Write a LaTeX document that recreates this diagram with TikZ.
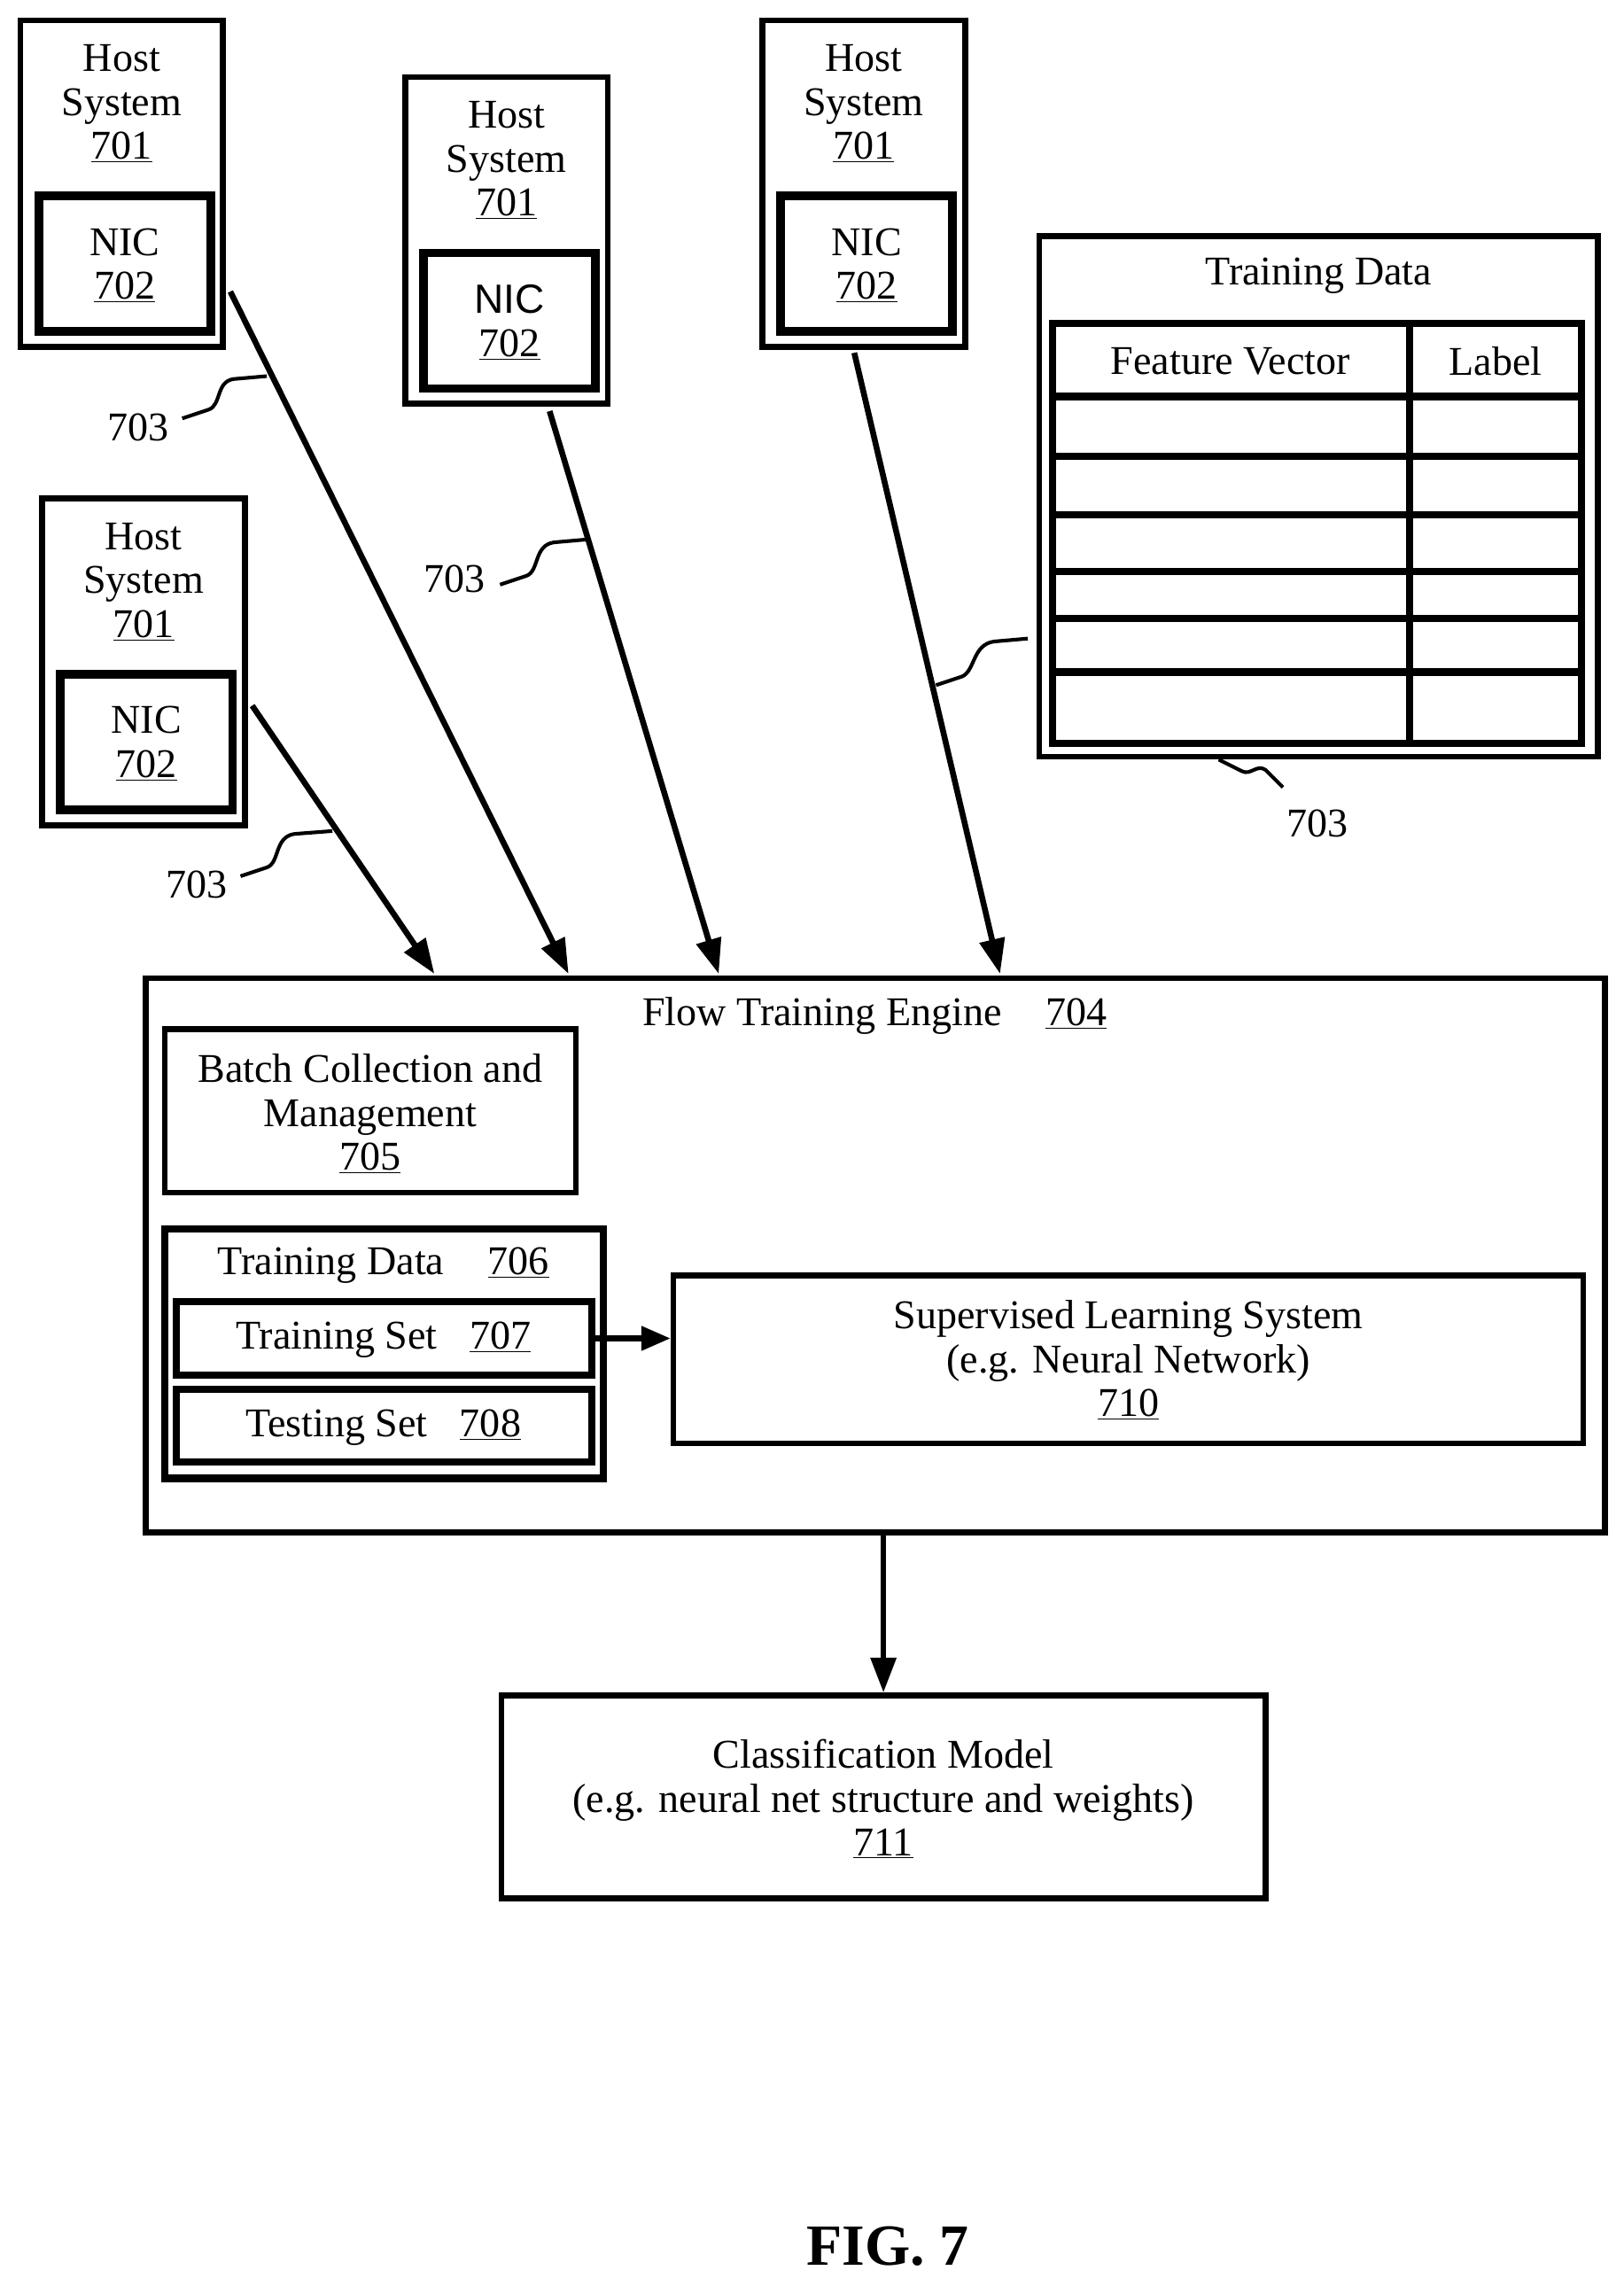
\documentclass[tikz,border=0pt]{standalone}
\usepackage{fontspec}
\setmainfont{Liberation Serif}
\newfontfamily\nicsans{Liberation Sans}
\usetikzlibrary{arrows.meta,calc}
\begin{document}
\begin{tikzpicture}[x=1pt,y=-1pt,
  obox/.style={draw,line width=4pt,inner sep=0pt},
  ibox/.style={draw,line width=6pt,inner sep=0pt},
  txt/.style={align=center,font=\fontsize{28}{30}\selectfont,inner sep=0pt},
  arr/.style={line width=4pt,-{Triangle[length=24pt,width=17pt]}},
  lead/.style={line width=2.5pt}]
\useasboundingbox (0,0) rectangle (1114,1568);
\newcommand{\hostsys}[4]{%
  \node[obox,minimum width=139pt,minimum height=224pt] (h#1) at (#2+69.5,#3+112) {};
  \node[ibox,minimum width=118pt,minimum height=93pt] (n#1) at (#2+71.5,#3+167) {};
  \node[txt] (ht#1) at (#2+69.5,#3+57) {Host\\System\\\underline{701}};
  \node[txt] (nt#1) at (#2+71.5,#3+168) {#4NIC\\\underline{702}};}
\hostsys{1}{14}{14}{}
\hostsys{2}{278}{53}{\nicsans}
\hostsys{3}{523}{14}{}
\hostsys{4}{29}{342}{}
% training data table
\node[obox,minimum width=383pt,minimum height=357pt] (td) at (904.5,340.5) {};
\node[txt] (tdt) at (904.5,189) {Training Data};
\node[draw,line width=5pt,inner sep=0pt,minimum width=363pt,minimum height=288pt] (tab) at (903.5,366) {};
\foreach \yy in {272,313,353,392,424,461} \draw[line width=5pt] (722,\yy) -- (1085,\yy);
\draw[line width=5pt] (967,222) -- (967,510);
\node[txt] (fv) at (844,248) {Feature Vector};
\node[txt] (lb) at (1026,248) {Label};
% flow engine
\node[obox,minimum width=1001pt,minimum height=380pt] (fe) at (600.5,861) {};
\node[txt] (fet) at (600,697) {Flow Training Engine\hspace{30pt}\underline{704}};
\node[obox,minimum width=282pt,minimum height=112pt] (bc) at (254,762) {};
\node[txt] (bct) at (254,764) {Batch Collection and\\Management\\\underline{705}};
\node[draw,line width=5pt,inner sep=0pt,minimum width=301pt,minimum height=171pt] (trd) at (263.5,928.5) {};
\node[txt] (trdt) at (263,868) {Training Data\hspace{30pt}\underline{706}};
\node[draw,line width=5pt,inner sep=0pt,minimum width=285pt,minimum height=50pt] (ts) at (263.5,918) {};
\node[txt] (tst) at (263,919) {Training Set\hspace{22pt}\underline{707}};
\node[draw,line width=5pt,inner sep=0pt,minimum width=285pt,minimum height=50pt] (tes) at (263.5,978) {};
\node[txt] (test) at (263,979) {Testing Set\hspace{22pt}\underline{708}};
\node[obox,minimum width=624pt,minimum height=115pt] (sl) at (774,932.5) {};
\node[txt] (slt) at (774,933) {Supervised Learning System\\(e.g. Neural Network)\\\underline{710}};
\node[obox,minimum width=524pt,minimum height=139pt] (cm) at (606,1232.5) {};
\node[txt] (cmt) at (606,1234) {Classification Model\\(e.g. neural net structure and weights)\\\underline{711}};
\node[font=\bfseries\fontsize{40}{42}\selectfont,inner sep=0pt] (fig) at (609,1541) {FIG. 7};
% arrows
\coordinate (s1) at (158,200); \coordinate (e1) at (390,668);
\coordinate (s2) at (377,282); \coordinate (e2) at (493,668);
\coordinate (s3) at (586,242); \coordinate (e3) at (686,668);
\coordinate (s4) at (173,484); \coordinate (e4) at (298,668);
\draw[arr] (s1) -- (e1);
\draw[arr] (s2) -- (e2);
\draw[arr] (s3) -- (e3);
\draw[arr] (s4) -- (e4);
\draw[line width=4pt,-{Triangle[length=20pt,width=16pt]}] (ts.east) -- (sl.west |- ts.east);
\draw[arr] (fe.south -| cm.north) -- (cm.north);
% leaders
\newcommand{\leader}[2]{%
  \draw[lead] (#1) -- ($(#1)!0.3!(#2)$) .. controls ($(#1)!0.4!(#2)+(-2,8)$) and ($(#1)!0.4!(#2)+(0,-10)$) .. ($(#1)!0.55!(#2)+(0,-8)$) -- (#2);}
\coordinate (la1) at (125,287); \coordinate (lb1) at (183,258);
\coordinate (la2) at (343,401); \coordinate (lb2) at (403,370);
\coordinate (la3) at (642,470); \coordinate (lb3) at (705,438);
\coordinate (la4) at (165,601); \coordinate (lb4) at (228,570);
\draw[lead] (la1) -- (143,281) .. controls (152,278) and (148,262) .. (160,260) -- (lb1);
\draw[lead] (la2) -- (361,395) .. controls (370,392) and (366,374) .. (380,372) -- (lb2);
\draw[lead] (la3) -- (660,464) .. controls (669,460) and (667,442) .. (682,440) -- (lb3);
\draw[lead] (la4) -- (183,595) .. controls (192,592) and (188,574) .. (202,572) -- (lb4);
\coordinate (la5) at (836,521); \coordinate (lb5) at (880,540);
\draw[lead] (la5) -- (852,529) .. controls (858,532) and (862,524) .. (868,528) -- (lb5);
\node[txt] (l1) at (95,293) {703};
\node[txt] (l2) at (312,397) {703};
\node[txt] (l4) at (135,607) {703};
\node[txt] (l5) at (904,565) {703};
\end{tikzpicture}
\end{document}
